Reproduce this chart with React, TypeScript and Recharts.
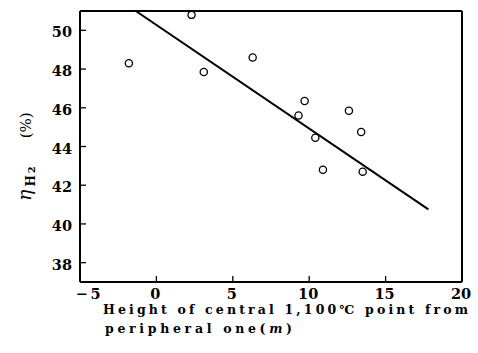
import React from 'react';
import { ScatterChart, Scatter, XAxis, YAxis, ReferenceLine } from 'recharts';

// measured points: height of central 1,100C point (m) vs eta_H2 (%)
const heightDiff = [-1.8, 2.3, 3.1, 6.3, 9.7, 9.3, 10.4, 10.9, 12.6, 13.4, 13.5];
const etaH2 = [48.3, 50.8, 47.85, 48.6, 46.35, 45.6, 44.45, 42.8, 45.85, 44.75, 42.7];

// regression line end points
const fitX = [-1.35, 17.8];
const fitY = [51, 40.75];

const xTicks = [-5, 0, 5, 10, 15, 20];
const yTicks = [38, 40, 42, 44, 46, 48, 50];

const points = heightDiff.map((x, i) => ({ x, y: etaH2[i] }));
const fitLine = fitX.map((x, i) => ({ x, y: fitY[i] }));
// anchor points for the inward tick marks
const xTickMarks = xTicks.slice(1, -1).map((x) => ({ x, y: 37 }));
const yTickMarks = yTicks.map((y) => ({ x: -5, y }));

const FONT = 'DejaVu Serif, serif';
const W = 478;
const H = 353;
const X_AXIS_H = 71;
const Y_AXIS_W = 80;
const PLOT_BOTTOM = H - X_AXIS_H;
const PLOT_LEFT = Y_AXIS_W;
const TICK = 6;

const XTick = (props: any) => {
  const { x, payload } = props;
  const v = payload.value;
  return (
    <text x={v === -5 ? x + 8 : x - 1} y={PLOT_BOTTOM + 17} textAnchor="middle"
      style={{ fontFamily: FONT, fontWeight: 'bold', fontSize: 14.5 }} fill="#000">
      {v < 0 ? '\u2212\u20095' : v}
    </text>
  );
};

const YTick = (props: any) => {
  const { y, payload } = props;
  return (
    <text x={PLOT_LEFT - 8} y={y + 7} textAnchor="end"
      style={{ fontFamily: FONT, fontWeight: 'bold', fontSize: 14.5 }} fill="#000">
      {payload.value}
    </text>
  );
};

const XLabel = () => (
  <g style={{ fontFamily: FONT, fontWeight: 'bold', fontSize: 12.5 }} fill="#000">
    <text x={103} y={314} textLength={365} lengthAdjust="spacing">Height of central 1,100℃ point from</text>
    <text x={105} y={333} textLength={187} lengthAdjust="spacing">peripheral one(<tspan fontStyle="italic">m</tspan>)</text>
  </g>
);

const YLabel = () => (
  <g transform="translate(31,201) rotate(-90)" style={{ fontFamily: FONT }} fill="#000">
    <text x={0} y={0}>
      <tspan fontSize={19} fontStyle="italic">η</tspan>
      <tspan fontSize={12} fontWeight="bold" dy={4} dx={3}>H</tspan>
      <tspan fontSize={10} fontWeight="bold" dx={2}>2</tspan>
      <tspan fontSize={15} dy={-4} dx={28}>(%)</tspan>
    </text>
  </g>
);

export default function App() {
  return (
    <div style={{ position: 'absolute', left: 0, top: 0, background: '#fff' }}>
      <ScatterChart width={W} height={H} margin={{ top: 11, right: 16, bottom: 0, left: 0 }}>
        <XAxis type="number" dataKey="x" domain={[-5, 20]} ticks={xTicks} height={X_AXIS_H}
          axisLine={{ stroke: '#000', strokeWidth: 2 }} tickLine={false}
          tick={<XTick />} allowDataOverflow label={<XLabel />} />
        <YAxis type="number" dataKey="y" domain={[37, 51]} ticks={yTicks} width={Y_AXIS_W}
          axisLine={{ stroke: '#000', strokeWidth: 2 }} tickLine={false}
          tick={<YTick />} allowDataOverflow label={<YLabel />} />
        <ReferenceLine y={51} stroke="#000" strokeWidth={2} ifOverflow="visible" />
        <ReferenceLine x={20} stroke="#000" strokeWidth={2} ifOverflow="visible" />
        <Scatter data={xTickMarks} isAnimationActive={false} shape={(p: any) => (
          <path d={`M${p.cx},${p.cy}V${p.cy - TICK}`} stroke="#000" strokeWidth={1.3} />
        )} />
        <Scatter data={yTickMarks} isAnimationActive={false} shape={(p: any) => (
          <path d={`M${p.cx},${p.cy}H${p.cx + TICK}`} stroke="#000" strokeWidth={1.3} />
        )} />
        <Scatter data={fitLine} line={{ stroke: '#000', strokeWidth: 2 }} shape={() => <g />} isAnimationActive={false} />
        <Scatter data={points} shape={(p: any) => (
          <circle cx={p.cx} cy={p.cy} r={3.6} fill="#fff" stroke="#000" strokeWidth={1.3} />
        )} isAnimationActive={false} />
      </ScatterChart>
    </div>
  );
}
